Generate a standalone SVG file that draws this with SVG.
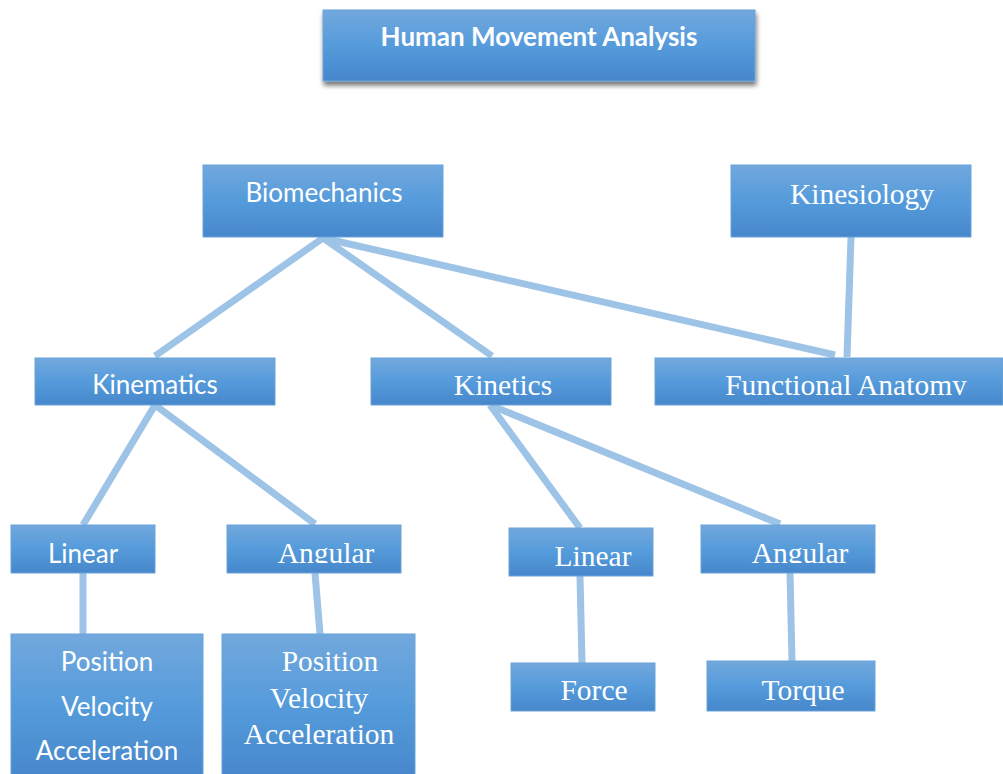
<svg xmlns="http://www.w3.org/2000/svg" width="1003" height="774" viewBox="0 0 1003 774">
<defs>
<linearGradient id="g" x1="0" y1="0" x2="0" y2="1">
<stop offset="0" stop-color="#72a8dd"/>
<stop offset="0.5" stop-color="#559bdb"/>
<stop offset="1" stop-color="#4687cb"/>
</linearGradient>
<filter id="sh" x="-10%" y="-20%" width="120%" height="160%">
<feGaussianBlur in="SourceAlpha" stdDeviation="2.5"/>
<feOffset dx="1" dy="4" result="b"/>
<feComponentTransfer><feFuncA type="linear" slope="0.55"/></feComponentTransfer>
<feMerge><feMergeNode/><feMergeNode in="SourceGraphic"/></feMerge>
</filter>
<clipPath id="cFA"><rect x="655" y="358" width="348" height="37"/></clipPath>
<clipPath id="cAL"><rect x="227" y="525" width="174" height="38"/></clipPath>
<clipPath id="cAR"><rect x="701" y="525" width="174" height="38"/></clipPath>
</defs>
<style>
.box{fill:url(#g);stroke:#6aa3d9;stroke-width:1}
.sans{font-family:Lato,"Open Sans",sans-serif;fill:#fff;text-anchor:middle;font-size:26px}
.serif{font-family:"Liberation Serif","Times New Roman",serif;fill:#fff;text-anchor:middle;font-size:29.5px}
.c{stroke:#9dc3e6;stroke-width:7;fill:none;stroke-linecap:butt}
</style>
<g id="connectors">
<line class="c" x1="323" y1="238" x2="155" y2="356"/>
<line class="c" x1="323" y1="238" x2="492" y2="356"/>
<line class="c" x1="323" y1="238" x2="835" y2="355"/>
<line class="c" x1="851" y1="237" x2="847" y2="357"/>
<line class="c" x1="155" y1="405" x2="83" y2="525"/>
<line class="c" x1="155" y1="405" x2="315" y2="524"/>
<line class="c" x1="490" y1="405" x2="580" y2="528"/>
<line class="c" x1="490" y1="405" x2="780" y2="524"/>
<line class="c" x1="83" y1="573" x2="83" y2="634"/>
<line class="c" x1="315" y1="573" x2="320" y2="634"/>
<line class="c" x1="580" y1="576" x2="582" y2="663"/>
<line class="c" x1="790" y1="573" x2="792" y2="661"/>
</g>
<g id="title">
<rect class="box" x="323" y="10" width="432" height="71" filter="url(#sh)"/>
<text class="sans" x="539" y="46" font-weight="bold">Human Movement Analysis</text>
</g>
<g id="biomechanics">
<rect class="box" x="203" y="165" width="240" height="72"/>
<text class="sans" x="324" y="202">Biomechanics</text>
</g>
<g id="kinesiology">
<rect class="box" x="731" y="165" width="240" height="72"/>
<text class="serif" x="862" y="204">Kinesiology</text>
</g>
<g id="kinematics">
<rect class="box" x="35" y="358" width="240" height="47"/>
<text class="sans" x="155" y="394">Kinematics</text>
</g>
<g id="kinetics">
<rect class="box" x="371" y="358" width="240" height="47"/>
<text class="serif" x="503" y="395">Kinetics</text>
</g>
<g id="functional-anatomy">
<rect class="box" x="655" y="358" width="348" height="47"/>
<text class="serif" x="846" y="395" clip-path="url(#cFA)">Functional Anatomy</text>
</g>
<g id="linear-kinematics">
<rect class="box" x="11" y="525" width="144" height="48"/>
<text class="sans" x="83" y="563">Linear</text>
</g>
<g id="angular-kinematics">
<rect class="box" x="227" y="525" width="174" height="48"/>
<text class="serif" x="326" y="563" clip-path="url(#cAL)">Angular</text>
</g>
<g id="linear-kinetics">
<rect class="box" x="509" y="528" width="144" height="48"/>
<text class="serif" x="593" y="566">Linear</text>
</g>
<g id="angular-kinetics">
<rect class="box" x="701" y="525" width="174" height="48"/>
<text class="serif" x="800" y="563" clip-path="url(#cAR)">Angular</text>
</g>
<g id="linear-quantities">
<rect class="box" x="11" y="634" width="192" height="145"/>
<text class="sans" x="107" y="671">Position</text>
<text class="sans" x="107" y="716">Velocity</text>
<text class="sans" x="107" y="760">Acceleration</text>
</g>
<g id="angular-quantities">
<rect class="box" x="222" y="634" width="193" height="145"/>
<text class="serif" x="330" y="671">Position</text>
<text class="serif" x="319" y="708">Velocity</text>
<text class="serif" x="319" y="744">Acceleration</text>
</g>
<g id="force">
<rect class="box" x="511" y="663" width="144" height="48"/>
<text class="serif" x="594" y="700">Force</text>
</g>
<g id="torque">
<rect class="box" x="707" y="661" width="168" height="50"/>
<text class="serif" x="803" y="700">Torque</text>
</g>
</svg>
